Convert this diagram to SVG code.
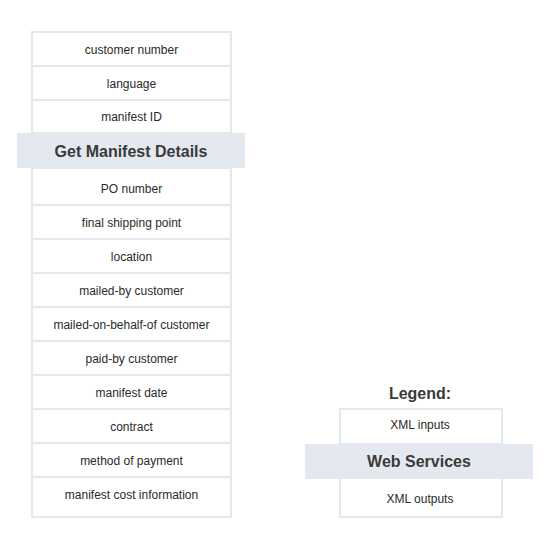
<svg xmlns="http://www.w3.org/2000/svg" width="551" height="549" viewBox="0 0 551 549">
<style>
.box{fill:#fff;stroke:#e3e8f0;stroke-width:2}
.hdr{fill:#e4e9f0}
.t{font-family:"Liberation Sans",Arial,sans-serif;font-size:12px;fill:#2a2a2a;text-anchor:middle;dominant-baseline:central}
.h{font-family:"Liberation Sans",Arial,sans-serif;font-size:16px;font-weight:bold;fill:#3a3a3a;text-anchor:middle;dominant-baseline:central}
</style>
<rect width="551" height="549" fill="#fff"/>
<g id="service">
<rect class="box" x="32" y="32" width="199" height="485"/>
<g id="inputs">
<rect class="box" x="32" y="32" width="199" height="34"/>
<text class="t" x="131.5" y="49.5">customer number</text>
<rect class="box" x="32" y="66" width="199" height="34"/>
<text class="t" x="131.5" y="83.5">language</text>
<rect class="box" x="32" y="100" width="199" height="33"/>
<text class="t" x="131.5" y="117">manifest ID</text>
</g>
<g id="header">
<rect class="hdr" x="17" y="133" width="228" height="35"/>
<text class="h" x="131" y="151">Get Manifest Details</text>
</g>
<g id="outputs">
<rect class="box" x="32" y="168" width="199" height="37"/>
<text class="t" x="131.5" y="188.5">PO number</text>
<rect class="box" x="32" y="205" width="199" height="34"/>
<text class="t" x="131.5" y="222.5">final shipping point</text>
<rect class="box" x="32" y="239" width="199" height="34"/>
<text class="t" x="131.5" y="256.5">location</text>
<rect class="box" x="32" y="273" width="199" height="34"/>
<text class="t" x="131.5" y="290.5">mailed-by customer</text>
<rect class="box" x="32" y="307" width="199" height="34"/>
<text class="t" x="131.5" y="324.5">mailed-on-behalf-of customer</text>
<rect class="box" x="32" y="341" width="199" height="34"/>
<text class="t" x="131.5" y="358.5">paid-by customer</text>
<rect class="box" x="32" y="375" width="199" height="34"/>
<text class="t" x="131.5" y="392.5">manifest date</text>
<rect class="box" x="32" y="409" width="199" height="34"/>
<text class="t" x="131.5" y="426.5">contract</text>
<rect class="box" x="32" y="443" width="199" height="34"/>
<text class="t" x="131.5" y="460.5">method of payment</text>
<rect class="box" x="32" y="477" width="199" height="40"/>
<text class="t" x="131.5" y="494.5">manifest cost information</text>
</g>
</g>
<g id="legend">
<text class="h" x="420" y="393.5">Legend:</text>
<rect class="box" x="340" y="409" width="162" height="108"/>
<rect class="box" x="340" y="409" width="162" height="35"/>
<text class="t" x="420" y="424.5">XML inputs</text>
<rect class="hdr" x="305" y="444" width="228" height="35"/>
<text class="h" x="419" y="461.5">Web Services</text>
<text class="t" x="420" y="498.5">XML outputs</text>
</g>
<g id="connectors"></g>
</svg>
